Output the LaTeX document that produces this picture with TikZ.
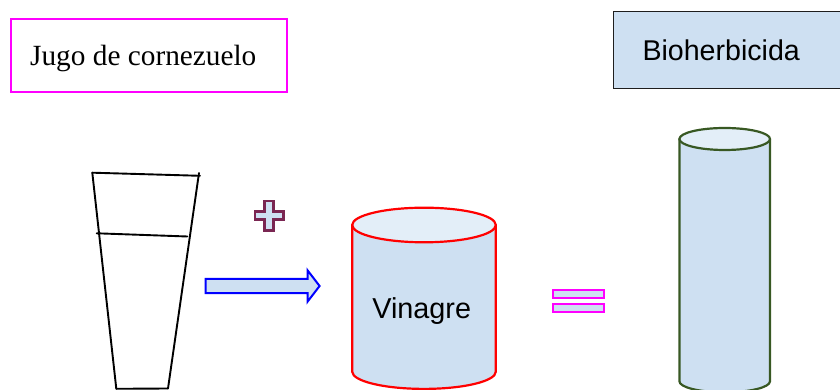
\documentclass[tikz,border=0pt]{standalone}
\usepackage{fontspec}
\newfontfamily\serifface{Liberation Serif}
\newfontfamily\sansface{Liberation Sans}
\definecolor{paleblue}{RGB}{206,224,242}
\definecolor{lidblue}{RGB}{227,238,248}
\definecolor{plusred}{RGB}{122,38,82}
\definecolor{tankgreen}{RGB}{56,88,35}
\definecolor{boxedge}{RGB}{30,30,30}
\definecolor{brightmagenta}{RGB}{255,0,255}
\definecolor{brightred}{RGB}{255,0,0}
\definecolor{brightblue}{RGB}{0,0,255}
\tikzset{
  glassline/.style={draw=black, line width=1.9pt, line cap=round},
  labeltext/.style={inner sep=0pt, anchor=base west},
  tankbody/.style={fill=paleblue, line width=2.2pt, line join=round},
  tanklid/.style={fill=lidblue, line width=2.2pt},
}
\begin{document}
\begin{tikzpicture}[x=1pt, y=1pt]
\useasboundingbox (0,0) rectangle (840,390);

% label boxes
\draw[brightmagenta, line width=1.8pt] (10.8,371.2) rectangle (287.2,297.8);
\node[labeltext, font=\serifface\fontsize{29.3}{29.3}\selectfont] (jugo) at (30,324.3) {Jugo de cornezuelo};

\draw[boxedge, fill=paleblue, line width=1.8pt] (613.5,378.5) rectangle (850,301.5);
\node[labeltext, font=\sansface\fontsize{28.6}{28.6}\selectfont] (bio) at (642.3,329) {Bioherbicida};

% drinking glass, drawn stroke by stroke
\coordinate (gTL) at (92.3,217.3);
\coordinate (gTR) at (200,214.2);
\coordinate (gRT) at (199,217);
\coordinate (gBL) at (116.3,1.2);
\coordinate (gBR) at (168,1.5);
\coordinate (gML) at (96.7,156.7);
\coordinate (gMR) at (187.3,153.5);
\draw[glassline] (gTL) -- (gTR);
\draw[glassline] (gTL) -- (gBL);
\draw[glassline] (gRT) -- (gBR);
\draw[glassline] (gML) -- (gMR);
\draw[glassline] (gBL) -- (gBR);

% plus sign
\draw[plusred, fill=paleblue, line width=2.3pt, line join=miter]
  (264.6,189.2) -- (273.4,189.2) -- (273.4,178.6) -- (283.4,178.6) -- (283.4,170.4)
  -- (273.4,170.4) -- (273.4,159.6) -- (264.6,159.6) -- (264.6,170.4) -- (255.2,170.4)
  -- (255.2,178.6) -- (264.6,178.6) -- cycle;

% block arrow
\draw[brightblue, fill=paleblue, line width=2pt, line join=miter]
  (205.6,111.2) -- (307.6,111.2) -- (307.6,119.6) -- (319.6,104) -- (307.6,88.4)
  -- (307.6,96.8) -- (205.6,96.8) -- cycle;

% vinegar drum
\draw[brightred, tankbody] (352.2,165) -- (352.2,18.3)
  arc[start angle=180, end angle=360, x radius=71.8, y radius=17.2]
  -- (495.8,165) -- cycle;
\draw[brightred, tanklid] (424,165) ellipse[x radius=71.8, y radius=17.3];
\node[inner sep=0pt, anchor=base, font=\sansface\fontsize{28.8}{28.8}\selectfont] (vin) at (421.7,71) {Vinagre};

% equals sign
\draw[brightmagenta, fill=paleblue, line width=2.5pt] (553.2,100.2) rectangle (604.2,91.8);
\draw[brightmagenta, fill=paleblue, line width=2.5pt] (553.2,86.2) rectangle (604.2,77.8);

% tall product cylinder
\draw[tankgreen, tankbody] (679.4,251) -- (679.4,8.7)
  arc[start angle=180, end angle=360, x radius=45.3, y radius=11]
  -- (770,251) -- cycle;
\draw[tankgreen, tanklid] (724.7,251) ellipse[x radius=45.3, y radius=11];
\end{tikzpicture}
\end{document}
